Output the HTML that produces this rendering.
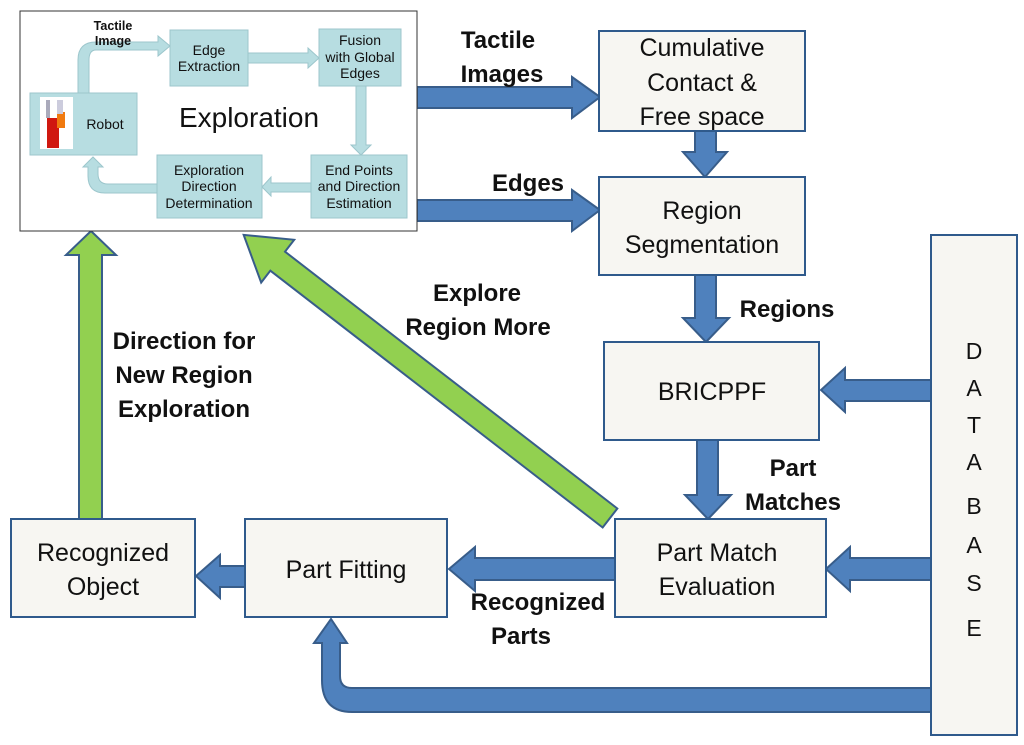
<!DOCTYPE html>
<html><head><meta charset="utf-8"><style>
html,body{margin:0;padding:0;background:#fff;}
svg{display:block;}
text{font-family:"Liberation Sans",sans-serif;}
</style></head><body>
<svg width="1024" height="745" viewBox="0 0 1024 745" xmlns="http://www.w3.org/2000/svg">
<g fill="#4f81bd" stroke="#385d8a" stroke-width="2">
<polygon points="417,87 572,87 572,77 600,97 572,118 572,108 417,108"/>
<polygon points="417,200 572,200 572,190 600,210 572,231 572,221 417,221"/>
<polygon points="695,131 716,131 716,152 727,152 705,177 683,152 695,152"/>
<polygon points="695,275 716,275 716,318 729,318 706,342 683,318 695,318"/>
<polygon points="697,440 718,440 718,495 731,495 708,519 685,495 697,495"/>
<polygon points="931,380 845,380 845,368 821,390 845,412 845,401 931,401"/>
<polygon points="931,558 850,558 850,547 826,569 850,591 850,580 931,580"/>
<polygon points="615,558 475,558 475,547 449,569 475,591 475,580 615,580"/>
<polygon points="245,566 220,566 220,555 196,576 220,598 220,587 245,587"/>
<path d="M931,688 L352,688 Q340,688 340,676 L340,643 L347,643 L331,619 L314,643 L322,643 L322,680 Q322,712 352,712 L931,712 Z"/>
</g>
<g fill="#92d050" stroke="#385d8a" stroke-width="2">
<polygon points="79,519 79,255 66,255 91,231 116,255 102,255 102,519"/>
<g transform="translate(610,518) rotate(217.7)">
<polygon points="0,-12 420,-12 420,-27 463,0 420,27 420,12 0,12"/>
</g>
</g>
<rect x="20" y="11" width="397" height="220" fill="#fff" stroke="#333" stroke-width="1"/>
<g fill="#b7dde1" stroke="#9cc6cc" stroke-width="1">
<path d="M78,93 L78,60 Q78,42 96,42 L158,42 L158,36 L170,46 L158,56 L158,50 L96,50 Q89,50 89,60 L89,93 Z"/>
<polygon points="248,53 308,53 308,48 319,58 308,68 308,63 248,63"/>
<polygon points="356,86 366,86 366,145 371,145 361,155 351,145 356,145"/>
<polygon points="311,183 271,183 271,177 262,187 271,196 271,192 311,192"/>
<path d="M157,193 L105,193 Q88,193 88,176 L88,167 L83,167 L93,157 L103,167 L98,167 L98,174 Q98,184 108,184 L157,184 Z"/>
<rect x="170" y="30" width="78" height="56"/>
<rect x="319" y="29" width="82" height="57"/>
<rect x="30" y="93" width="107" height="62"/>
<rect x="311" y="155" width="96" height="63"/>
<rect x="157" y="155" width="105" height="63"/>
</g>
<rect x="40" y="97" width="33" height="52" fill="#fff"/>
<rect x="47" y="118" width="12" height="30" fill="#d01810"/>
<rect x="57" y="112" width="8" height="16" fill="#f07a10"/>
<rect x="46" y="100" width="4" height="18" fill="#aab"/>
<rect x="57" y="100" width="6" height="14" fill="#ccd"/>
<g font-size="14" text-anchor="middle" fill="#111">
<text x="113" y="30" font-weight="bold" font-size="12.5">Tactile</text>
<text x="113" y="45" font-weight="bold" font-size="12.5">Image</text>
<text x="209" y="55">Edge</text><text x="209" y="71">Extraction</text>
<text x="360" y="45">Fusion</text><text x="360" y="62">with Global</text><text x="360" y="78">Edges</text>
<text x="105" y="129">Robot</text>
<text x="359" y="175">End Points</text><text x="359" y="191">and Direction</text><text x="359" y="208">Estimation</text>
<text x="209" y="175">Exploration</text><text x="209" y="191">Direction</text><text x="209" y="208">Determination</text>
<text x="249" y="127" font-size="28">Exploration</text>
</g>
<g fill="#f7f6f2" stroke="#2f5a8c" stroke-width="2">
<rect x="599" y="31" width="206" height="100"/>
<rect x="599" y="177" width="206" height="98"/>
<rect x="604" y="342" width="215" height="98"/>
<rect x="615" y="519" width="211" height="98"/>
<rect x="245" y="519" width="202" height="98"/>
<rect x="11" y="519" width="184" height="98"/>
<rect x="931" y="235" width="86" height="500"/>
</g>
<g font-size="25" text-anchor="middle" fill="#111">
<text x="702" y="56">Cumulative</text><text x="702" y="91">Contact &amp;</text><text x="702" y="125">Free space</text>
<text x="702" y="219">Region</text><text x="702" y="253">Segmentation</text>
<text x="712" y="400">BRICPPF</text>
<text x="717" y="561">Part Match</text><text x="717" y="595">Evaluation</text>
<text x="346" y="578">Part Fitting</text>
<text x="103" y="561">Recognized</text><text x="103" y="595">Object</text>
<g font-size="23">
<text x="974" y="359">D</text><text x="974" y="396">A</text><text x="974" y="433">T</text><text x="974" y="470">A</text><text x="974" y="514">B</text><text x="974" y="553">A</text><text x="974" y="591">S</text><text x="974" y="636">E</text>
</g>
</g>
<g font-size="24" font-weight="bold" text-anchor="middle" fill="#111">
<text x="498" y="48">Tactile</text><text x="502" y="82">Images</text>
<text x="528" y="191">Edges</text>
<text x="787" y="317">Regions</text>
<text x="793" y="476">Part</text><text x="793" y="510">Matches</text>
<text x="477" y="301">Explore</text><text x="478" y="335">Region More</text>
<text x="184" y="349">Direction for</text><text x="184" y="383">New Region</text><text x="184" y="417">Exploration</text>
<text x="538" y="610">Recognized</text><text x="521" y="644">Parts</text>
</g>
</svg>
</body></html>
